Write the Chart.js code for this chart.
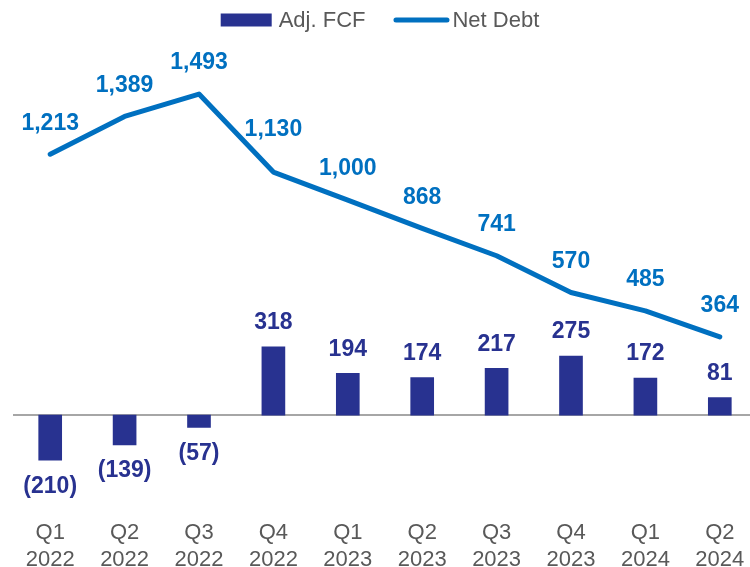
<!DOCTYPE html>
<html>
<head>
<meta charset="utf-8">
<script src="https://cdn.jsdelivr.net/npm/chart.js@4/dist/chart.umd.min.js"></script>
<style>
    html, body { margin: 0; padding: 0; background: #fff; overflow: hidden; }
    #wrap { width: 750px; height: 567px; overflow: hidden; }
</style>
</head>
<body>
<div id="wrap"><canvas id="grafico" width="760" height="583"></canvas></div>
<script>
const trimestri = ['Q1', 'Q2', 'Q3', 'Q4', 'Q1', 'Q2', 'Q3', 'Q4', 'Q1', 'Q2'];
const anni = ['2022', '2022', '2022', '2022', '2023', '2023', '2023', '2023', '2024', '2024'];
const adjFcf = [-210, -139, -57, 318, 194, 174, 217, 275, 172, 81];
const netDebt = [1213, 1389, 1493, 1130, 1000, 868, 741, 570, 485, 364];

const blu = '#283290';
const azzurro = '#0070C0';
const grigio = '#595959';
const fontBase = '"Liberation Sans", Arial, sans-serif';

// formato numeri: migliaia con virgola, negativi tra parentesi
function formatta(v) {
    const s = Math.abs(v).toLocaleString('en-US');
    return v < 0 ? '(' + s + ')' : s;
}

// linea dello zero
const lineaZero = {
    id: 'lineaZero',
    beforeDatasetsDraw(chart) {
        const ctx = chart.ctx;
        const y = chart.scales.y.getPixelForValue(0);
        ctx.save();
        ctx.strokeStyle = '#A6A6A6';
        ctx.lineWidth = 2;
        ctx.beginPath();
        ctx.moveTo(chart.chartArea.left, y);
        ctx.lineTo(chart.chartArea.right, y);
        ctx.stroke();
        ctx.restore();
    }
};

// etichette dei valori
const etichette = {
    id: 'etichette',
    afterDatasetsDraw(chart) {
        const ctx = chart.ctx;
        ctx.save();
        ctx.font = 'bold 23px ' + fontBase;
        ctx.textAlign = 'center';
        ctx.textBaseline = 'middle';
        chart.data.datasets.forEach((ds, di) => {
            const meta = chart.getDatasetMeta(di);
            meta.data.forEach((el, i) => {
                const v = ds.data[i];
                let y;
                if (ds.type === 'line') {
                    ctx.fillStyle = azzurro;
                    y = el.y - 31 - (i === 3 ? 11 : 0);
                } else {
                    ctx.fillStyle = blu;
                    y = v >= 0 ? el.y - 24 : el.y + 26;
                }
                ctx.fillText(formatta(v), el.x, y);
            });
        });
        ctx.restore();
    }
};

// legenda disegnata a mano, centrata in alto
const legenda = {
    id: 'legenda',
    afterDraw(chart) {
        const ctx = chart.ctx;
        const y = 20;
        ctx.save();
        ctx.font = '22px ' + fontBase;
        ctx.textBaseline = 'middle';
        ctx.textAlign = 'left';
        const voci = chart.data.datasets.map(ds => ({
            testo: ds.label,
            linea: ds.type === 'line',
            simbolo: ds.type === 'line' ? 56 : 51,
            spazio: ds.type === 'line' ? 3 : 7
        }));
        const gap = 28;
        let totale = 0;
        voci.forEach((v, i) => {
            v.larghezza = v.simbolo + v.spazio + ctx.measureText(v.testo).width;
            totale += v.larghezza + (i > 0 ? gap : 0);
        });
        let x = chart.width / 2 - totale / 2;
        voci.forEach(v => {
            if (v.linea) {
                ctx.strokeStyle = azzurro;
                ctx.lineWidth = 5;
                ctx.lineCap = 'round';
                ctx.beginPath();
                ctx.moveTo(x + 2.5, y);
                ctx.lineTo(x + v.simbolo - 2.5, y);
                ctx.stroke();
            } else {
                ctx.fillStyle = blu;
                ctx.fillRect(x, y - 6.5, v.simbolo, 13);
            }
            ctx.fillStyle = grigio;
            ctx.fillText(v.testo, x + v.simbolo + v.spazio, y + 1);
            x += v.larghezza + gap;
        });
        ctx.restore();
    }
};

const ctx = document.getElementById('grafico').getContext('2d');
new Chart(ctx, {
    data: {
        labels: trimestri.map((q, i) => [q, anni[i]]),
        datasets: [{
            type: 'bar',
            label: 'Adj. FCF',
            data: adjFcf,
            backgroundColor: blu,
            barThickness: 23,
            order: 2
        }, {
            type: 'line',
            label: 'Net Debt',
            data: netDebt,
            borderColor: azzurro,
            backgroundColor: azzurro,
            borderWidth: 5,
            borderCapStyle: 'round',
            borderJoinStyle: 'round',
            pointRadius: 0,
            tension: 0,
            order: 1
        }]
    },
    options: {
        responsive: false,
        animation: false,
        layout: { padding: { left: 13, right: 3, top: 45, bottom: 0 } },
        plugins: {
            tooltip: { enabled: false },
            legend: { display: false }
        },
        scales: {
            x: {
                grid: { display: false },
                border: { display: false },
                ticks: {
                    color: grigio,
                    padding: 10,
                    maxRotation: 0,
                    font: { family: fontBase, size: 22, lineHeight: 1.2 }
                }
            },
            y: {
                display: false,
                min: -405,
                max: 1721
            }
        }
    },
    plugins: [lineaZero, etichette, legenda]
});
</script>
</body>
</html>
